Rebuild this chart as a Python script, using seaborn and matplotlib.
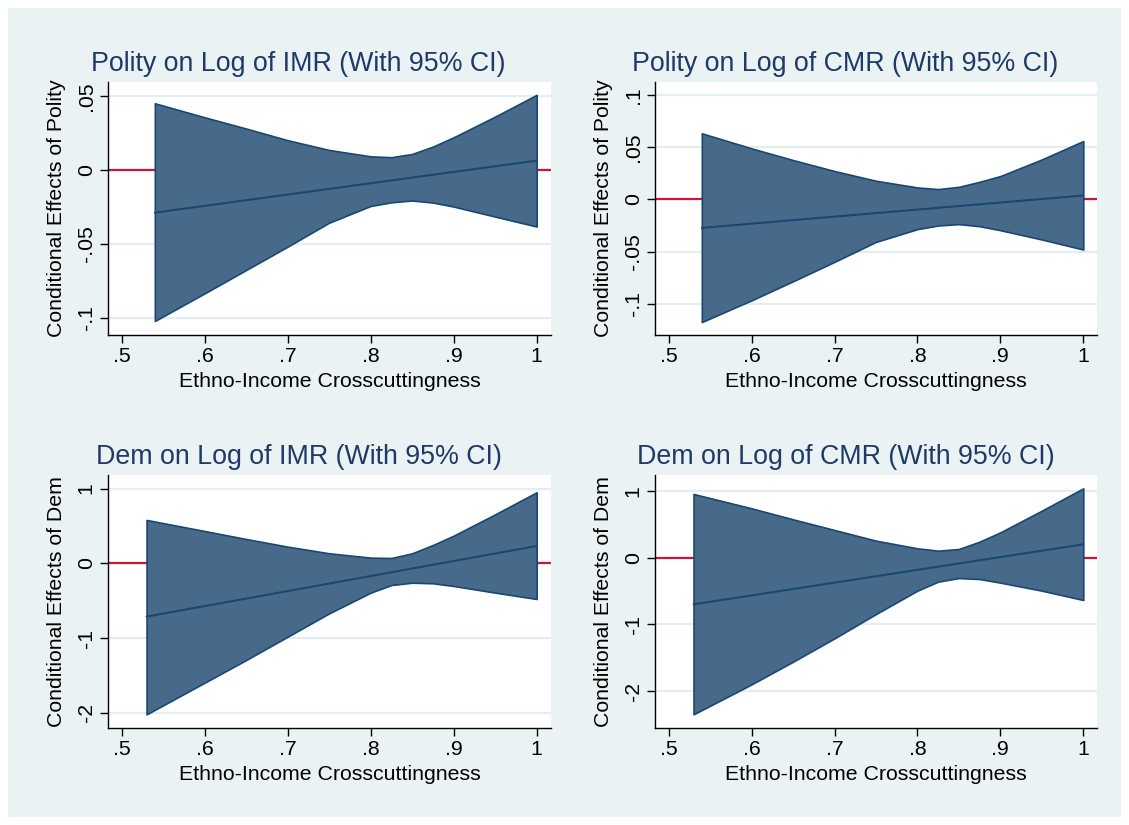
import numpy as np
import pandas as pd
import matplotlib
matplotlib.use("Agg")
import matplotlib.pyplot as plt
from matplotlib.patches import Rectangle
import seaborn as sns

# ---- data ----
TITLES = ["Polity on Log of IMR (With 95% CI)", "Polity on Log of CMR (With 95% CI)",
          "Dem on Log of IMR (With 95% CI)", "Dem on Log of CMR (With 95% CI)"]
YLABELS = ["Conditional Effects of Polity", "Conditional Effects of Polity",
           "Conditional Effects of Dem", "Conditional Effects of Dem"]
XLABEL = "Ethno-Income Crosscuttingness"

x_polity = [0.54, 0.60, 0.65, 0.70, 0.75, 0.80, 0.825, 0.85, 0.875, 0.90, 0.95, 1.00]
x_dem = [0.53, 0.60, 0.65, 0.70, 0.75, 0.80, 0.825, 0.85, 0.875, 0.90, 0.95, 1.00]

upper_pol_imr = [0.0451, 0.0356, 0.0280, 0.0201, 0.0135, 0.0092, 0.0086, 0.0108, 0.0158, 0.0221, 0.0361, 0.0508]
lower_pol_imr = [-0.1022, -0.0835, -0.0677, -0.0519, -0.0357, -0.0244, -0.0219, -0.0207, -0.0221, -0.0248, -0.0316, -0.0383]
est_pol_imr = [-0.0289, 0.0063]

upper_pol_cmr = [0.0633, 0.0489, 0.0377, 0.0272, 0.0179, 0.0115, 0.0099, 0.0121, 0.0169, 0.0224, 0.0383, 0.0559]
lower_pol_cmr = [-0.1173, -0.0965, -0.0783, -0.0597, -0.0406, -0.0284, -0.0249, -0.0236, -0.0256, -0.0294, -0.0383, -0.0479]
est_pol_cmr = [-0.0272, 0.0038]

upper_dem_imr = [0.580, 0.432, 0.325, 0.223, 0.134, 0.076, 0.071, 0.134, 0.245, 0.370, 0.655, 0.950]
lower_dem_imr = [-2.020, -1.596, -1.293, -0.981, -0.669, -0.392, -0.290, -0.259, -0.267, -0.303, -0.392, -0.477]
est_dem_imr = [-0.713, 0.232]

upper_dem_cmr = [0.954, 0.739, 0.574, 0.414, 0.255, 0.140, 0.105, 0.130, 0.240, 0.379, 0.704, 1.038]
lower_dem_cmr = [-2.346, -1.897, -1.558, -1.208, -0.844, -0.494, -0.359, -0.305, -0.320, -0.374, -0.494, -0.634]
est_dem_cmr = [-0.699, 0.200]

XTICKS = [0.5, 0.6, 0.7, 0.8, 0.9, 1.0]
XTICKLABELS = [".5", ".6", ".7", ".8", ".9", "1"]
YTICKS = [[-0.1, -0.05, 0, 0.05], [-0.1, -0.05, 0, 0.05, 0.1], [-2, -1, 0, 1], [-2, -1, 0, 1]]
YTICKLABELS = [["-.1", "-.05", "0", ".05"], ["-.1", "-.05", "0", ".05", ".1"],
               ["-2", "-1", "0", "1"], ["-2", "-1", "0", "1"]]
YLIMS = [(-0.1117, 0.0597), (-0.1297, 0.1127), (-2.198, 1.181), (-2.546, 1.238)]

NAVY = "#1a476f"
FILL = "#476a8b"
RED = "#c8163c"
BG = "#eaf2f3"
GRID = "#e4edf0"
TITLE_C = "#1e3a66"

sns.set_theme(style="white")
plt.rcParams["font.family"] = ["Liberation Sans", "DejaVu Sans"]

fig = plt.figure(figsize=(11.29, 8.25), dpi=100)
fig.patch.set_facecolor("white")
bg = Rectangle((8 / 1129, 8 / 825), 1113 / 1129, 809 / 825,
               transform=fig.transFigure, facecolor=BG, edgecolor="none", zorder=-10)
fig.add_artist(bg)

W, H = 1129, 825
boxes = [(108.3, 81.7, 550.7, 335.0), (655.3, 81.7, 1097.3, 335.0),
         (108.3, 475.0, 550.7, 727.7), (655.3, 475.0, 1097.3, 727.7)]

panels = [(x_polity, upper_pol_imr, lower_pol_imr, est_pol_imr),
          (x_polity, upper_pol_cmr, lower_pol_cmr, est_pol_cmr),
          (x_dem, upper_dem_imr, lower_dem_imr, est_dem_imr),
          (x_dem, upper_dem_cmr, lower_dem_cmr, est_dem_cmr)]

for i, ((xs, up, lo, est), (l, t, r, b)) in enumerate(zip(panels, boxes)):
    ax = fig.add_axes([l / W, 1 - b / H, (r - l) / W, (b - t) / H])
    ax.set_zorder(1)
    ax.set_facecolor("white")
    ax.set_xlim(0.4839, 1.0169)
    ax.set_ylim(*YLIMS[i])
    for yt in YTICKS[i]:
        ax.axhline(yt, color=GRID, lw=1.6, zorder=0)
    ax.axhline(0, color=RED, lw=1.6, zorder=1)
    ax.fill_between(xs, lo, up, facecolor=FILL, edgecolor=NAVY, lw=1.2, zorder=2)
    df = pd.DataFrame({"x": [xs[0], xs[-1]], "y": est})
    sns.lineplot(data=df, x="x", y="y", ax=ax, color=NAVY, lw=1.5, zorder=3)

    ax.set_xticks(XTICKS)
    ax.set_xticklabels(XTICKLABELS)
    ax.set_yticks(YTICKS[i])
    ax.set_yticklabels(YTICKLABELS[i], rotation=90, va="center")
    ax.tick_params(axis="both", direction="out", length=6, width=1, color="black",
                   labelsize=15.3, pad=3, labelcolor="black")
    ax.tick_params(axis="both", which="both", bottom=True, left=True)
    for s in ["top", "right"]:
        ax.spines[s].set_visible(False)
    for s in ["left", "bottom"]:
        ax.spines[s].set_color("black")
        ax.spines[s].set_linewidth(1)
    ax.set_xlabel(XLABEL, fontsize=15.3, color="black", labelpad=4)
    ax.set_ylabel(YLABELS[i], fontsize=15.3, color="black", labelpad=8)
    ax.set_title(TITLES[i], fontsize=19.3, color=TITLE_C, x=0.43, pad=8)

fig.savefig("out.png", dpi=100, facecolor=fig.get_facecolor())
